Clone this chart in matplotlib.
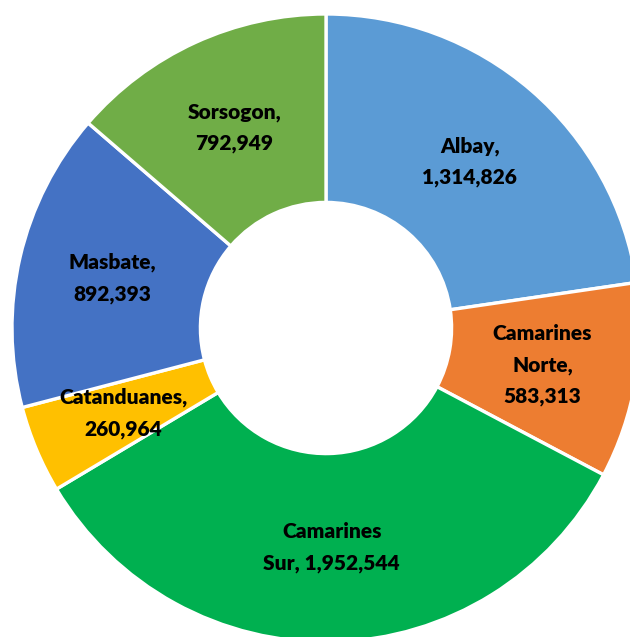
import matplotlib.pyplot as plt

provinces = ["Albay", "Camarines Norte", "Camarines Sur", "Catanduanes", "Masbate", "Sorsogon"]
population = [1314826, 583313, 1952544, 260964, 892393, 792949]
label_text = ["Albay,\n1,314,826", "Camarines\nNorte,\n583,313", "Camarines\nSur, 1,952,544",
              "Catanduanes,\n260,964", "Masbate,\n892,393", "Sorsogon,\n792,949"]
colors = ["#5B9BD5", "#ED7D31", "#00B050", "#FFC000", "#4472C4", "#70AD47"]

fig = plt.figure(figsize=(6.30, 6.37), dpi=100)
ax = fig.add_axes([0, 0, 1, 1])

wedges, texts = ax.pie(population, labels=label_text, colors=colors, startangle=90,
                       counterclock=False, labeldistance=0.70,
                       wedgeprops=dict(width=0.60, edgecolor="white", linewidth=2.4))

for t in texts:
    t.set_ha("center")
    t.set_va("center")
    t.set_fontfamily("Lato")
    t.set_fontweight("heavy")
    t.set_fontsize(15)
    t.set_linespacing(1.75)

# pie centre sits at (326, 328) px, radius ~314 px; the ring is clipped at right and bottom
ax.set_xlim(-326 / 314, 304 / 314)
ax.set_ylim(-309 / 314, 328 / 314)
ax.set_aspect("auto")
ax.axis("off")

fig.savefig("out.png", dpi=100)
